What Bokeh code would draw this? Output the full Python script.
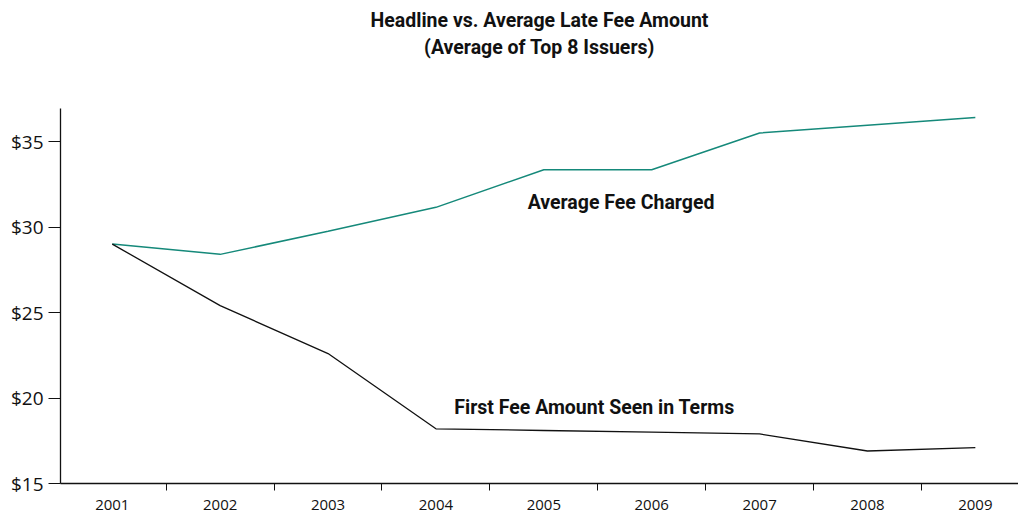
from bokeh.plotting import figure
from bokeh.models import FixedTicker, Label, Title, Range1d
from bokeh.embed import file_html
from bokeh.resources import INLINE

years = ["2001", "2002", "2003", "2004", "2005", "2006", "2007", "2008", "2009"]
avg_fee = [29.0, 28.4, 29.75, 31.15, 33.35, 33.35, 35.5, 35.95, 36.4]
first_fee = [29.0, 25.4, 22.6, 18.2, 18.1, 18.0, 17.9, 16.9, 17.1]
y_ticks = [15, 20, 25, 30, 35]

xs = list(range(len(years)))

FONT = "Open Sans"
TFONT = "Roboto"
BOLD_SIZE = "19.5px"

p = figure(width=1018, height=514, output_backend="svg", toolbar_location=None,
           x_range=Range1d(-0.48, 8.40), y_range=Range1d(15, 36.93),
           min_border_left=60, min_border_right=0, min_border_top=108, min_border_bottom=31)
p.title = None
p.outline_line_color = None
p.grid.grid_line_color = None
p.background_fill_color = "white"
p.border_fill_color = "white"

p.line(xs, avg_fee, line_color="#15897a", line_width=1.5)
p.line(xs, first_fee, line_color="#111111", line_width=1.3)

# x axis
p.xaxis.ticker = FixedTicker(ticks=xs, minor_ticks=[i + 0.5 for i in range(-1, len(years))])
p.xaxis.major_label_overrides = {i: y for i, y in enumerate(years)}
p.xaxis.major_tick_out = 0
p.xaxis.major_tick_in = 0
p.xaxis.minor_tick_out = 7
p.xaxis.minor_tick_in = 0
p.xaxis.minor_tick_line_color = "#111111"
p.xaxis.axis_line_color = "#111111"
p.xaxis.axis_line_width = 1.3
p.xaxis.major_label_standoff = 9
p.xaxis.major_label_text_font = FONT
p.xaxis.major_label_text_font_size = "15px"
p.xaxis.major_label_text_color = "#111111"

# y axis
p.yaxis.ticker = FixedTicker(ticks=y_ticks)
p.yaxis.major_label_overrides = {t: "$%d" % t for t in y_ticks}
p.yaxis.major_tick_out = 12
p.yaxis.major_tick_in = 0
p.yaxis.minor_tick_line_color = None
p.yaxis.major_tick_line_color = "#111111"
p.yaxis.axis_line_color = "#111111"
p.yaxis.axis_line_width = 1.3
p.yaxis.major_label_standoff = 5
p.yaxis.major_label_text_font = FONT
p.yaxis.major_label_text_font_size = "19px"
p.yaxis.major_label_text_color = "#111111"

p.add_layout(Label(x=3.85, y=31.45, text="Average Fee Charged", text_font=TFONT,
                   text_font_style="bold", text_font_size=BOLD_SIZE, text_baseline="middle",
                   text_color="#111111"))
p.add_layout(Label(x=3.17, y=19.45, text="First Fee Amount Seen in Terms", text_font=TFONT,
                   text_font_style="bold", text_font_size=BOLD_SIZE, text_baseline="middle",
                   text_color="#111111"))

# spacer between titles and plot frame
p.add_layout(Title(text=" ", text_font_size="10px", standoff=36), "above")
p.add_layout(Title(text="(Average of Top 8 Issuers)", align="center", offset=-28,
                   text_font=TFONT, text_font_style="bold", text_font_size=BOLD_SIZE,
                   text_color="#111111", standoff=2), "above")
p.add_layout(Title(text="Headline vs. Average Late Fee Amount", align="center", offset=-28,
                   text_font=TFONT, text_font_style="bold", text_font_size=BOLD_SIZE,
                   text_color="#111111", standoff=2), "above")

open("out.html", "w").write(file_html(p, INLINE))
